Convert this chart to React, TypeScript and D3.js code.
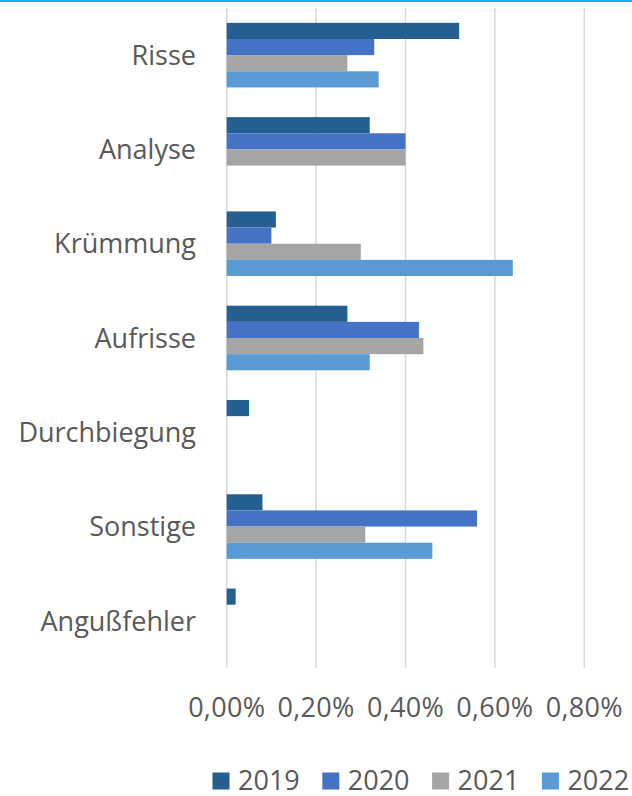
import React, { useEffect, useRef } from "react";
import * as d3 from "d3";

// Fehlerarten, Anteil in Prozent
const categories = ["Risse", "Analyse", "Krümmung", "Aufrisse", "Durchbiegung", "Sonstige", "Angußfehler"];
const years = ["2019", "2020", "2021", "2022"];
const values2019 = [0.52, 0.32, 0.11, 0.27, 0.05, 0.08, 0.02];
const values2020 = [0.33, 0.4, 0.1, 0.43, null, 0.56, null];
const values2021 = [0.27, 0.4, 0.3, 0.44, null, 0.31, null];
const values2022 = [0.34, null, 0.64, 0.32, null, 0.46, null];
const tickValues = [0, 0.2, 0.4, 0.6, 0.8];
const tickLabels = ["0,00%", "0,20%", "0,40%", "0,60%", "0,80%"];

const seriesColors = ["#255E91", "#4472C4", "#A5A5A5", "#5B9BD5"];

export default function App() {
  const ref = useRef<SVGSVGElement>(null);

  useEffect(() => {
    const width = 632;
    const height = 796;
    const font = "'Open Sans', sans-serif";
    const textColor = "#595959";
    const series = [values2019, values2020, values2021, values2022];

    const svg = d3.select(ref.current);
    svg.selectAll("*").remove();
    svg.attr("width", width).attr("height", height);

    // blue line on top
    svg.append("rect").attr("x", 0).attr("y", 0).attr("width", width).attr("height", 2).attr("fill", "#12B4EF");

    const x = d3.scaleLinear().domain([0, 0.8]).range([226.7, 584.3]);
    const y = d3.scaleBand<string>().domain(categories).range([8, 668]);
    const gap = y.bandwidth() * 0.315;
    const yInner = d3.scaleBand<string>().domain(years).range([gap / 2, y.bandwidth() - gap / 2]);

    // gridlines
    svg
      .append("g")
      .selectAll("line")
      .data(tickValues)
      .enter()
      .append("line")
      .attr("x1", (d) => x(d))
      .attr("x2", (d) => x(d))
      .attr("y1", 8)
      .attr("y2", 668)
      .attr("stroke", "#D9D9D9")
      .attr("stroke-width", 1.5);

    // bars
    const groups = svg
      .append("g")
      .selectAll("g")
      .data(categories)
      .enter()
      .append("g")
      .attr("transform", (d) => "translate(0," + y(d) + ")");

    groups
      .selectAll("rect")
      .data((d, i) => years.map((yr, j) => ({ year: yr, value: series[j][i], color: seriesColors[j] })))
      .enter()
      .filter((d) => d.value != null)
      .append("rect")
      .attr("x", x(0))
      .attr("y", (d) => yInner(d.year)!)
      .attr("width", (d) => x(d.value as number) - x(0))
      .attr("height", yInner.bandwidth())
      .attr("fill", (d) => d.color);

    // category labels
    svg
      .append("g")
      .selectAll("text")
      .data(categories)
      .enter()
      .append("text")
      .attr("x", 196)
      .attr("y", (d) => y(d)! + y.bandwidth() / 2)
      .attr("dy", "0.36em")
      .attr("text-anchor", "end")
      .style("font-family", font)
      .style("font-size", "27px")
      .attr("fill", textColor)
      .text((d) => d);

    // x tick labels
    svg
      .append("g")
      .selectAll("text")
      .data(tickValues)
      .enter()
      .append("text")
      .attr("x", (d) => x(d))
      .attr("y", 716.5)
      .attr("text-anchor", "middle")
      .style("font-family", font)
      .style("font-size", "27px")
      .style("letter-spacing", "0.3px")
      .attr("fill", textColor)
      .text((d, i) => tickLabels[i]);

    // legend
    const legend = svg
      .append("g")
      .selectAll("g")
      .data(years)
      .enter()
      .append("g")
      .attr("transform", (d, i) => "translate(" + (212.5 + i * 109.8) + ",0)");

    legend
      .append("rect")
      .attr("x", 0)
      .attr("y", 772.5)
      .attr("width", 17)
      .attr("height", 17)
      .attr("fill", (d, i) => seriesColors[i]);

    legend
      .append("text")
      .attr("x", 25.5)
      .attr("y", 789.5)
      .style("font-family", font)
      .style("font-size", "27px")
      .attr("fill", textColor)
      .text((d) => d);
  }, []);

  return (
    <div style={{ position: "absolute", left: 0, top: 0 }}>
      <svg ref={ref} style={{ display: "block" }}></svg>
    </div>
  );
}
